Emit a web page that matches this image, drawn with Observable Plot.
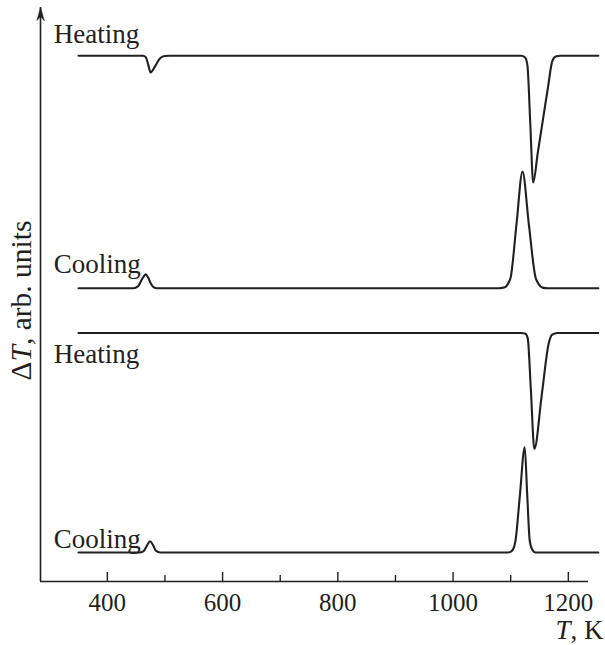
<!DOCTYPE html>
<html><head><meta charset="utf-8">
<script src="https://cdn.jsdelivr.net/npm/d3@7"></script>
<script src="https://cdn.jsdelivr.net/npm/@observablehq/plot@0.6"></script>
<style>html,body{margin:0;padding:0;background:#fff}svg{display:block}</style>
</head><body><div id="chart"></div>
<script>
// Temperature axis (K)
const xDomain = [284, 1235];
const majorTicks = [400, 600, 800, 1000, 1200];
const minorTicks = [500, 700, 900, 1100];
// ΔT in arbitrary units (curves are offset vertically)
const yDomain = [0, 100];

// Curve 1: heating
const heating1T = [350, 462, 467, 471, 475, 483, 492, 500, 508, 1118, 1125, 1129, 1134, 1139, 1147, 1156, 1165, 1172, 1178, 1186, 1252];
const heating1V = [91.6, 91.6, 91.3, 90.0, 88.7, 89.8, 91.2, 91.55, 91.6, 91.6, 91.3, 89.9, 79.7, 69.5, 74.7, 80.5, 86.3, 90.6, 91.45, 91.6, 91.6];
// Curve 2: cooling
const cooling1T = [350, 445, 453, 461, 466.5, 471, 475, 480, 486, 1080, 1090, 1096, 1100, 1110, 1120.5, 1131.5, 1143, 1148, 1155, 1165, 1252];
const cooling1V = [51.1, 51.1, 51.4, 52.8, 53.5, 52.9, 52.0, 51.3, 51.1, 51.1, 51.25, 52.0, 53.0, 62.2, 71.4, 62.2, 53.0, 51.9, 51.2, 51.1, 51.1];
// Curve 3: heating
const heating2T = [350, 1118, 1125, 1129.5, 1135, 1141, 1154, 1166, 1172, 1181, 1252];
const heating2V = [43.3, 43.3, 43.2, 42.4, 33.4, 23.1, 32.6, 41.5, 43.0, 43.3, 43.3];
// Curve 4: cooling
const cooling2T = [350, 455, 463, 469, 474, 479, 484, 492, 1090, 1098, 1104, 1108, 1116, 1124.3, 1128.6, 1133, 1137, 1143, 1252];
const cooling2V = [5.05, 5.05, 5.3, 6.3, 7.0, 6.4, 5.4, 5.05, 5.05, 5.1, 5.6, 6.9, 15.1, 23.4, 15.2, 7.1, 5.6, 5.05, 5.05];

// Curve labels
const labelNames = ["Heating", "Cooling", "Heating", "Cooling"];
const labelT = [307, 307, 307, 307];
const labelV = [93.9, 53.8, 38.0, 5.9];

const xLabel = "T, K";
const yLabel = "ΔT, arb. units";

const ink = "#231f20";
const font = "'Liberation Serif', 'Times New Roman', serif";

const curves = [
  [heating1T, heating1V], [cooling1T, cooling1V],
  [heating2T, heating2V], [cooling2T, cooling2V]
];
const rows = curves.flatMap(([T, V], k) => T.map((t, i) => ({k, T: t, V: V[i]})));
const labels = labelNames.map((name, i) => ({name, T: labelT[i], V: labelV[i]}));

let arrowMark;
try {
  const arrowShape = {
    draw(ctx, l, r) {
      ctx.moveTo(0, -l);
      ctx.lineTo(-r, 0);
      ctx.lineTo(0, -l * 0.3);
      ctx.lineTo(r, 0);
      ctx.closePath();
    }
  };
  arrowMark = Plot.vector([yDomain[1]], {x: xDomain[0], y: d => d, length: 13, r: 3.6, rotate: 0,
    anchor: "end", shape: arrowShape, fill: ink, stroke: ink, strokeWidth: 0.6});
} catch (e) {
  arrowMark = Plot.dot([yDomain[1]], {x: xDomain[0], y: d => d, symbol: "triangle", r: 4, fill: ink, dy: 4});
}

const chart = Plot.plot({
  width: 605,
  height: 645,
  marginLeft: 40,
  marginRight: 17,
  marginTop: 7,
  marginBottom: 64,
  x: {domain: xDomain},
  y: {domain: yDomain, axis: null},
  style: {fontFamily: font, fontSize: "25px", color: ink, background: "white", overflow: "visible"},
  marks: [
    Plot.ruleY([yDomain[0]], {stroke: ink, strokeWidth: 1.6}),
    Plot.ruleX([xDomain[0]], {y1: yDomain[0], y2: yDomain[1], stroke: ink, strokeWidth: 1.6}),
    arrowMark,
    Plot.axisX(majorTicks, {tickSize: -9, tickFormat: () => "", strokeWidth: 1.4, label: null}),
    Plot.axisX(minorTicks, {tickSize: -6, tickFormat: () => "", strokeWidth: 1.4, label: null}),
    Plot.axisX(majorTicks, {tickSize: 0, tickPadding: 12, fontSize: 25, label: null, fill: ink, tickFormat: d => String(d)}),
    Plot.line(rows, {x: "T", y: "V", z: "k", curve: "monotone-x", stroke: ink, strokeWidth: 2.1, strokeLinejoin: "round"}),
    Plot.text(labels, {x: "T", y: "V", text: "name", textAnchor: "start", lineAnchor: "bottom", fontSize: 27, fill: ink}),
    Plot.text([xLabel], {text: d => d, frameAnchor: "bottom-right", dx: 15, dy: 57, textAnchor: "end", lineAnchor: "bottom", fontSize: 27, fill: ink}),
    Plot.text([yLabel], {text: d => d, frameAnchor: "left", rotate: -90, dx: -19, dy: 6, textAnchor: "middle", lineAnchor: "middle", fontSize: 29.5, fill: ink})
  ]
});

// italicize the symbol T in the axis titles
function italicT(str, prefix, rest) {
  chart.querySelectorAll("text").forEach(t => {
    if (t.textContent === str) {
      let target = t;
      while (target.children.length === 1 && target.children[0].textContent === str) target = target.children[0];
      if (target.children.length === 0) {
        target.textContent = "";
        if (prefix) target.appendChild(document.createTextNode(prefix));
        const ts = document.createElementNS("http://www.w3.org/2000/svg", "tspan");
        ts.setAttribute("font-style", "italic");
        ts.textContent = "T";
        target.appendChild(ts);
        target.appendChild(document.createTextNode(rest));
      }
    }
  });
}
italicT(xLabel, "", ", K");
italicT(yLabel, "Δ", ", arb. units");

document.getElementById("chart").appendChild(chart);
</script>
</body></html>
